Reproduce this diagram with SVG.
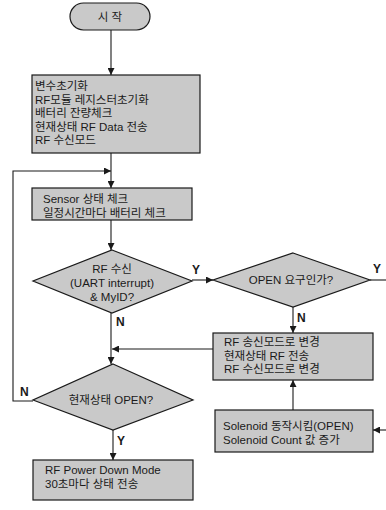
<svg xmlns="http://www.w3.org/2000/svg" width="386" height="510" viewBox="0 0 386 510">
<style>
.shape{fill:#c9c9c9;stroke:#1a1a1a;stroke-width:1.2}
.line{fill:none;stroke:#1a1a1a;stroke-width:1.1}
text{font-family:"Liberation Sans","Noto Sans CJK KR",sans-serif;font-size:11.5px;fill:#1a1a1a}
.c{text-anchor:middle}
.lbl{font-size:12px;font-weight:bold}
</style>
<defs>
<marker id="arr" viewBox="0 0 10 10" refX="10" refY="5" markerWidth="7" markerHeight="7" orient="auto" markerUnits="userSpaceOnUse">
<path d="M0,0 L10,5 L0,10 z" fill="#1a1a1a"/>
</marker>
</defs>
<rect width="386" height="510" fill="#ffffff"/>
<g id="connectors">
<line class="line" x1="111" y1="30" x2="111" y2="75" marker-end="url(#arr)"/>
<line class="line" x1="111" y1="153" x2="111" y2="188" marker-end="url(#arr)"/>
<polyline class="line" points="33,401 13,401 13,171 111,171" marker-end="url(#arr)"/>
<line class="line" x1="111" y1="220" x2="111" y2="250" marker-end="url(#arr)"/>
<line class="line" x1="192" y1="280" x2="213" y2="280" marker-end="url(#arr)"/>
<line class="line" x1="370" y1="280" x2="386" y2="280"/>
<line class="line" x1="293" y1="307" x2="293" y2="333" marker-end="url(#arr)"/>
<line class="line" x1="111" y1="313" x2="111" y2="364" marker-end="url(#arr)"/>
<line class="line" x1="213" y1="349" x2="112" y2="349" marker-end="url(#arr)"/>
<line class="line" x1="293" y1="410" x2="293" y2="380" marker-end="url(#arr)"/>
<line class="line" x1="386" y1="430" x2="373" y2="430" marker-end="url(#arr)"/>
<line class="line" x1="113" y1="430" x2="113" y2="460" marker-end="url(#arr)"/>
<text class="lbl" x="192" y="274">Y</text>
<text class="lbl" x="116" y="326">N</text>
<text class="lbl" x="373" y="273">Y</text>
<text class="lbl" x="297" y="322">N</text>
<text class="lbl" x="20" y="396">N</text>
<text class="lbl" x="117" y="445">Y</text>
</g>
<g id="start">
<rect class="shape" x="70" y="3" width="80" height="27" rx="13.5" ry="13.5"/>
<text class="c" x="110" y="21">시 작</text>
</g>
<g id="init">
<rect class="shape" x="32" y="75" width="168" height="78"/>
<text x="35" y="90">변수초기화</text>
<text x="35" y="103.5">RF모듈 레지스터초기화</text>
<text x="35" y="117">배터리 잔량체크</text>
<text x="35" y="130.5">현재상태 RF Data 전송</text>
<text x="35" y="144">RF 수신모드</text>
</g>
<g id="sensor">
<rect class="shape" x="32" y="188" width="160" height="32"/>
<text x="43" y="203">Sensor 상태 체크</text>
<text x="43" y="216.5">일정시간마다 배터리 체크</text>
</g>
<g id="rfrecv">
<polygon class="shape" points="112,250 192,281 112,313 33,281"/>
<text class="c" x="112" y="273">RF 수신</text>
<text class="c" x="112" y="287">(UART interrupt)</text>
<text class="c" x="112" y="301">&amp; MyID?</text>
</g>
<g id="openreq">
<polygon class="shape" points="293,253 370,280 293,307 213,280"/>
<text class="c" x="291" y="284">OPEN 요구인가?</text>
</g>
<g id="send">
<rect class="shape" x="213" y="333" width="160" height="47"/>
<text x="224" y="346">RF 송신모드로 변경</text>
<text x="224" y="359.5">현재상태 RF 전송</text>
<text x="224" y="373">RF 수신모드로 변경</text>
</g>
<g id="solenoid">
<rect class="shape" x="215" y="410" width="158" height="42"/>
<text x="223" y="430">Solenoid 동작시킴(OPEN)</text>
<text x="223" y="443.5">Solenoid Count 값 증가</text>
</g>
<g id="curopen">
<polygon class="shape" points="113,364 193,400 113,430 33,400"/>
<text class="c" x="111" y="404">현재상태 OPEN?</text>
</g>
<g id="powerdown">
<rect class="shape" x="33" y="460" width="160" height="40"/>
<text x="45" y="474">RF Power Down Mode</text>
<text x="45" y="488">30초마다 상태 전송</text>
</g>
</svg>
